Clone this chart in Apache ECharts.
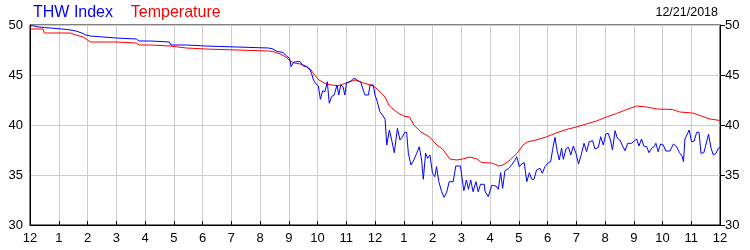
<!DOCTYPE html>
<html><head><meta charset="utf-8">
<script src="https://cdn.jsdelivr.net/npm/echarts@6/dist/echarts.min.js"></script>
<style>html,body{margin:0;padding:0;background:#fff}#c{width:750px;height:250px}</style>
</head><body><div id="c"></div>
<script>
const seriesNames = ['THW Index', 'Temperature'];
const dateLabel = '12/21/2018';
const hourLabels = ['12','1','2','3','4','5','6','7','8','9','10','11','12','1','2','3','4','5','6','7','8','9','10','11','12'];
const yTicks = [30, 35, 40, 45, 50];

const tempHours = [0,0.45,0.5,1.4,1.6,1.85,2.0,2.1,3.0,3.05,3.7,3.8,4.2,4.25,4.85,4.9,5.45,5.5,6.1,6.15,8.3,8.5,8.7,8.9,9.05,9.2,9.4,9.6,9.75,9.9,10.05,10.3,10.7,11.0,11.3,11.6,11.95,12.15,12.35,12.5,12.8,13.0,13.2,13.35,13.6,13.9,14.15,14.35,14.6,14.85,15.05,15.3,15.55,15.7,16.05,16.2,16.3,16.45,16.7,16.95,17.15,17.3,17.6,17.95,18.3,18.65,19.0,19.35,19.7,20.05,20.4,20.75,21.1,21.45,21.8,22.35,22.6,23.05,23.4,23.65,24];
const tempValues = [49.6,49.6,49.2,49.2,49.0,48.8,48.5,48.3,48.3,48.2,48.2,48.0,48.0,47.9,47.9,47.7,47.7,47.6,47.6,47.4,47.4,47.3,47.1,46.8,46.4,46.2,46.1,45.9,45.6,45.0,44.5,44.1,43.9,44.2,44.5,44.2,43.9,43.4,42.8,41.9,41.2,40.9,40.8,40.0,39.3,38.8,38.0,37.6,36.6,36.5,36.6,36.8,36.6,36.25,36.2,36.05,35.9,36.0,36.5,37.2,38.0,38.3,38.5,38.8,39.2,39.55,39.8,40.1,40.4,40.8,41.15,41.55,41.9,41.8,41.6,41.55,41.3,41.2,40.85,40.6,40.45];

const thwHours = [0,0.15,0.3,0.5,0.55,1.3,1.35,1.6,1.8,1.95,2.1,2.15,3.0,3.05,3.7,3.8,4.2,4.25,4.85,4.9,5.45,5.5,6.1,6.15,8.3,8.45,8.6,8.8,8.93,9.03,9.08,9.16,9.25,9.39,9.51,9.62,9.74,9.8,9.86,9.95,10.03,10.1,10.18,10.26,10.34,10.41,10.49,10.58,10.68,10.74,10.81,10.89,10.95,11.01,11.13,11.22,11.3,11.42,11.5,11.59,11.65,11.77,11.83,11.94,12.0,12.08,12.17,12.26,12.35,12.41,12.5,12.58,12.67,12.78,12.87,12.96,13.03,13.1,13.16,13.25,13.35,13.45,13.54,13.62,13.68,13.76,13.83,13.91,14.0,14.08,14.14,14.22,14.32,14.4,14.49,14.58,14.72,14.81,14.97,15.09,15.18,15.25,15.33,15.41,15.51,15.59,15.67,15.8,15.83,15.94,16.06,16.21,16.29,16.37,16.44,16.52,16.64,16.75,16.87,16.93,17.02,17.1,17.19,17.28,17.37,17.45,17.53,17.62,17.74,17.82,17.91,18.03,18.11,18.18,18.26,18.34,18.41,18.49,18.55,18.65,18.73,18.81,18.9,18.99,19.08,19.18,19.27,19.36,19.45,19.57,19.65,19.77,19.85,19.94,20.03,20.11,20.19,20.26,20.35,20.43,20.52,20.61,20.7,20.79,20.93,21.02,21.1,21.18,21.27,21.35,21.45,21.53,21.62,21.71,21.77,21.85,21.93,22.03,22.11,22.26,22.38,22.49,22.59,22.68,22.73,22.78,22.84,22.93,23.01,23.1,23.19,23.27,23.34,23.44,23.6,23.69,23.77,23.86,23.94,24];
const thwValues = [49.95,49.9,49.8,49.75,49.6,49.55,49.45,49.4,49.2,49.0,48.9,48.7,48.7,48.6,48.6,48.4,48.4,48.3,48.3,48.0,48.0,47.9,47.9,47.7,47.7,47.6,47.35,47.25,46.9,46.67,45.83,46.23,46.33,46.33,45.9,45.83,45.5,45.1,44.5,44.1,43.9,42.57,43.43,43.33,44.33,42.17,42.83,43.0,44.0,43.0,44.0,43.83,43.0,44.23,44.33,44.57,44.67,44.4,44.33,43.5,43.0,43.0,44.0,44.0,43.0,42.33,41.33,41.0,40.57,38.0,39.5,38.5,37.23,39.67,38.5,38.83,39.27,39.27,37.17,36.0,36.5,37.17,37.83,36.5,34.57,37.17,36.67,37.0,35.17,34.83,35.83,34.33,33.33,32.77,33.23,34.33,34.33,35.9,35.9,33.43,34.5,33.57,34.5,33.33,34.33,33.33,34.07,34.07,33.33,32.83,33.97,33.9,33.57,35.23,33.67,35.43,35.63,36.0,36.5,36.83,35.83,36.1,36.23,34.33,35.23,34.57,34.57,35.5,35.67,35.17,35.83,36.23,36.33,37.57,38.77,37.33,36.5,37.67,36.57,37.67,37.77,37.0,37.9,37.17,36.1,37.1,38.17,37.33,38.33,38.43,37.6,37.77,38.83,38.0,39.1,39.17,38.5,37.5,39.43,38.67,38.5,37.9,37.43,38.17,38.17,38.43,38.6,37.9,38.6,37.9,37.83,37.23,37.67,37.83,38.17,37.33,38.1,38.0,37.4,37.4,38.1,37.83,37.23,36.9,36.33,38.6,38.43,39.5,38.33,38.4,39.27,39.27,37.17,37.23,39.07,37.67,37.0,37.17,37.67,37.73];

const zip = (xs, ys) => xs.map((x, i) => [x, ys[i]]);
const FONT = 'Liberation Sans, Arial, sans-serif';
const chart = echarts.init(document.getElementById('c'), null, {renderer: 'canvas'});
const yAxisBase = {
  type: 'value', min: yTicks[0], max: yTicks[yTicks.length - 1], interval: 5,
  axisLine: {show: true, lineStyle: {color: '#000', width: 1}},
  axisLabel: {color: '#000', fontSize: 13, fontFamily: FONT},
  splitLine: {show: true, lineStyle: {color: '#cccccc', width: 1}}
};
chart.setOption({
  animation: false,
  backgroundColor: '#fff',
  grid: {left: 30, right: 30, top: 25, bottom: 25, show: true, borderColor: '#000', borderWidth: 1},
  title: [
    {text: '{a|' + seriesNames[0] + '}    {b|' + seriesNames[1] + '}', left: 33, top: 5, padding: 0,
     textStyle: {fontWeight: 'normal', fontSize: 16, rich: {a: {color: '#0000ff', fontSize: 16, fontWeight: 'normal', fontFamily: FONT}, b: {color: '#ff0000', fontSize: 16, fontWeight: 'normal', fontFamily: FONT}}}},
    {text: dateLabel, right: 32, top: 6, padding: 0, textStyle: {color: '#000', fontSize: 12.5, fontWeight: 'normal', fontFamily: FONT}}
  ],
  xAxis: {
    type: 'value', min: 0, max: 24, interval: 1,
    axisLine: {show: true, lineStyle: {color: '#000'}},
    axisTick: {show: true, inside: true, length: 4, lineStyle: {color: '#000'}},
    axisLabel: {color: '#000', fontSize: 13, fontFamily: FONT, margin: 7, formatter: v => hourLabels[Math.round(v)]},
    splitLine: {show: true, lineStyle: {color: '#cccccc', width: 1}}
  },
  yAxis: [
    Object.assign({}, yAxisBase, {position: 'left', axisTick: {show: false}, axisLabel: Object.assign({}, yAxisBase.axisLabel, {margin: 7})}),
    Object.assign({}, yAxisBase, {position: 'right', axisTick: {show: true, inside: false, length: 5, lineStyle: {color: '#000'}}, axisLabel: Object.assign({}, yAxisBase.axisLabel, {margin: 5}), splitLine: {show: false}})
  ],
  series: [
    {name: seriesNames[1], type: 'line', data: zip(tempHours, tempValues), showSymbol: false, symbol: 'none',
     lineStyle: {color: '#ff0000', width: 1}, itemStyle: {color: '#ff0000'}, z: 2},
    {name: seriesNames[0], type: 'line', data: zip(thwHours, thwValues), showSymbol: false, symbol: 'none',
     lineStyle: {color: '#0000ff', width: 1}, itemStyle: {color: '#0000ff'}, z: 3}
  ]
});
</script></body></html>
